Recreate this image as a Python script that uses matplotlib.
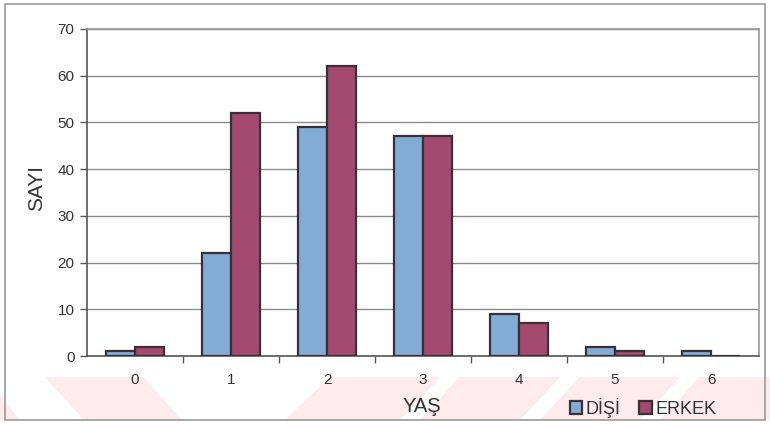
import matplotlib.pyplot as plt
from matplotlib.patches import Rectangle, Polygon
import numpy as np

plt.rcParams['font.family'] = ['Liberation Sans', 'DejaVu Sans']

ages = ['0', '1', '2', '3', '4', '5', '6']
disi = [1, 22, 49, 47, 9, 2, 1]
erkek = [2, 52, 62, 47, 7, 1, 0]

W, H = 770, 424
BLUE = '#82abd5'
MAROON = '#a54a6f'
EDGE = '#3a3035'

fig = plt.figure(figsize=(W / 100, H / 100), dpi=100)
fig.patch.set_facecolor('white')


def px(x, y):
    # pixel coords (top-left origin) -> figure fraction
    return (x / W, 1 - y / H)


# faint pink diagonal bands along the bottom strip
pink = '#fdebee'
bands = [
    [(45, 377), (143, 377), (182, 420), (84, 420)],
    [(0, 395), (20, 420), (0, 420)],
    [(330, 377), (440, 377), (400, 420), (285, 420)],
    [(460, 377), (560, 377), (520, 420), (420, 420)],
    [(580, 377), (680, 377), (640, 420), (540, 420)],
    [(700, 377), (770, 377), (770, 420), (660, 420)],
]
for b in bands:
    fig.patches.append(Polygon([px(x, y) for x, y in b], closed=True,
                               transform=fig.transFigure, facecolor=pink,
                               edgecolor='none', zorder=0))

# outer chart frame
fig.patches.append(Rectangle(px(5, 420), 760 / W, 416 / H, transform=fig.transFigure,
                             fill=False, edgecolor='#9a9a9a', linewidth=1.2, zorder=1))

left, right, top, bottom = 87, 759, 29, 356
ax = fig.add_axes([left / W, 1 - bottom / H, (right - left) / W, (bottom - top) / H])
ax.set_zorder(2)

x = np.arange(len(ages))
bw = 0.3
ax.bar(x - bw / 2, disi, bw, color=BLUE, edgecolor=EDGE, linewidth=1.6, label='DİŞİ', zorder=3)
ax.bar(x + bw / 2, erkek, bw, color=MAROON, edgecolor=EDGE, linewidth=1.6, label='ERKEK', zorder=3)

ax.set_xlim(-0.5, len(ages) - 0.5)
ax.set_ylim(0, 70)
ax.set_yticks(range(0, 71, 10))
ax.yaxis.grid(True, color='#8c8c8c', linewidth=1.0)
ax.set_axisbelow(True)

ax.set_xticks(x)
ax.set_xticklabels(ages)
ax.set_xticks(np.arange(0.5, len(ages) - 0.5, 1), minor=True)
ax.tick_params(axis='x', which='major', length=0, pad=12, labelsize=11, colors='#333333')
ax.tick_params(axis='x', which='minor', length=5, width=1, color='#555555', direction='out')
ax.tick_params(axis='y', length=5, width=1, color='#555555', labelsize=11,
               labelcolor='#333333', pad=4)

for side in ['top', 'right']:
    ax.spines[side].set_color('#9a9a9a')
    ax.spines[side].set_linewidth(1.2)
for side in ['left', 'bottom']:
    ax.spines[side].set_color('#555555')
    ax.spines[side].set_linewidth(1.2)

fig.text(*px(37, 188), 'SAYI', rotation=90, ha='center', va='center',
         fontsize=15, color='#333333')
fig.text(*px(422, 407), 'YAŞ', ha='center', va='center', fontsize=14.5, color='#333333')

ax.legend(loc='center', bbox_to_anchor=(px(643, 408)), bbox_transform=fig.transFigure,
          ncol=2, frameon=False, fontsize=13, handlelength=0.7, handleheight=0.7,
          handletextpad=0.2, columnspacing=1.0, labelcolor='#333333')

fig.savefig('out.png', dpi=100, facecolor='white')
